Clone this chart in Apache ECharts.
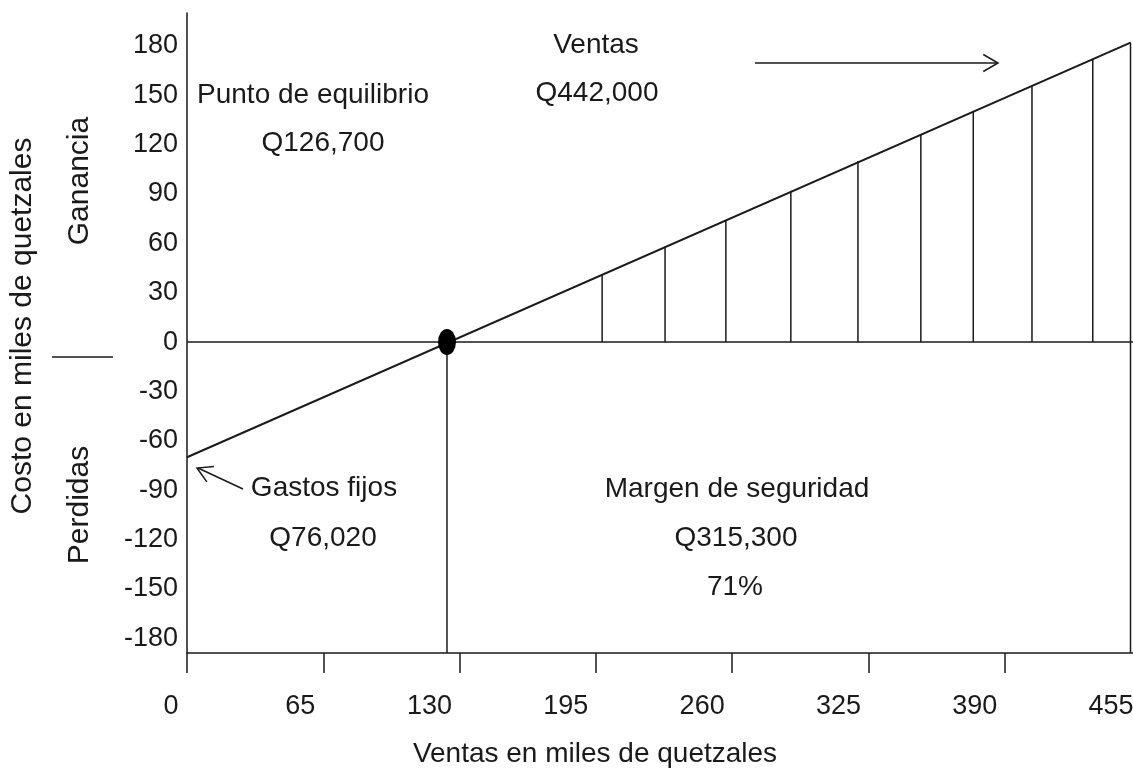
<!DOCTYPE html>
<html>
<head>
<meta charset="utf-8">
<script src="https://cdn.jsdelivr.net/npm/echarts@6/dist/echarts.min.js"></script>
<style>
  html, body { margin: 0; padding: 0; background: #fff; }
  #chart { width: 1133px; height: 771px; }
</style>
</head>
<body>
<div id="chart"></div>
<script>
// ---- data (values in thousands of quetzales) ----
const xTickLabels = ['0', '65', '130', '195', '260', '325', '390', '455'];
const yTickValues = [-180, -150, -120, -90, -60, -30, 0, 30, 60, 90, 120, 150, 180];
const profitLineX = [0, 450];
const profitLineY = [-70, 182];
const hatchX = [198, 228, 257, 288, 320, 350, 375, 403, 432];
const hatchY = [41, 58, 74, 92, 110, 126, 140, 156, 172];
const breakEvenX = 124;
const salesX = 450;
const salesY = 182;
const yMin = -189;
const yMax = 200;

const FONT = '"Liberation Sans", Arial, sans-serif';
const INK = '#1a1a1a';

const chart = echarts.init(document.getElementById('chart'), null, { renderer: 'canvas' });

function txt(text, x, y, size, rot) {
  return {
    type: 'text', x: x, y: y, rotation: rot || 0, silent: true,
    style: { text: text, fill: INK, fontSize: size, fontFamily: FONT, align: 'center', verticalAlign: 'middle' }
  };
}
function seg(points, w) {
  return { type: 'polyline', silent: true, shape: { points: points }, style: { stroke: INK, lineWidth: w || 1.5, fill: null } };
}
function arrowHead(tail, tip, len, ang) {
  const dx = tail[0] - tip[0], dy = tail[1] - tip[1];
  const d = Math.hypot(dx, dy), ux = dx / d, uy = dy / d;
  const c = Math.cos(ang), s = Math.sin(ang);
  const a1 = [tip[0] + len * (ux * c - uy * s), tip[1] + len * (ux * s + uy * c)];
  const a2 = [tip[0] + len * (ux * c + uy * s), tip[1] + len * (-ux * s + uy * c)];
  return seg([a1, tip, a2], 1.5);
}

const lineData = profitLineX.map((x, i) => [x, profitLineY[i]]);
const hatchData = hatchX.map((x, i) => [x, hatchY[i]]);

const option = {
  backgroundColor: '#fff',
  animation: false,
  grid: { left: 187, top: 13, width: 954, height: 640, containLabel: false, outerBoundsMode: 'none' },
  xAxis: {
    type: 'value', min: 0, max: 455, interval: 65,
    axisLine: { show: true, onZero: false, lineStyle: { color: INK, width: 1.5 } },
    axisTick: { show: true, length: 20, lineStyle: { color: INK, width: 1.5 } },
    splitLine: { show: false },
    axisLabel: {
      show: true, showMinLabel: true, showMaxLabel: true, margin: 40,
      color: INK, fontSize: 27, fontFamily: FONT,
      formatter: function (v, i) {
        const cls = i === 0 ? 'a' : (i === 1 ? 'b' : 'c');
        return '{' + cls + '|' + xTickLabels[i] + '}';
      },
      rich: {
        a: { color: INK, fontSize: 27, fontFamily: FONT, padding: [0, 32, 0, 0] },
        b: { color: INK, fontSize: 27, fontFamily: FONT, padding: [0, 46, 0, 0] },
        c: { color: INK, fontSize: 27, fontFamily: FONT, padding: [0, 60, 0, 0] }
      }
    }
  },
  yAxis: {
    type: 'value', min: yMin, max: yMax,
    axisLine: { show: true, onZero: false, lineStyle: { color: INK, width: 1.5 } },
    axisTick: { show: false },
    splitLine: { show: false },
    axisLabel: {
      show: true, customValues: yTickValues, margin: 9,
      color: INK, fontSize: 27, fontFamily: FONT
    }
  },
  series: [
    {
      name: 'Resultado', type: 'line', data: lineData, showSymbol: false, silent: true,
      lineStyle: { color: INK, width: 2 },
      markLine: {
        silent: true, symbol: ['none', 'none'], label: { show: false },
        lineStyle: { color: INK, width: 1.5, type: 'solid' },
        data: [{ yAxis: 0 }]
      }
    },
    {
      name: 'Ganancia', type: 'bar', data: hatchData, barWidth: 1.5, silent: true,
      itemStyle: { color: INK }
    },
    {
      name: 'Ventas', type: 'line', data: [[salesX, yMin], [salesX, salesY]], showSymbol: false, silent: true,
      lineStyle: { color: INK, width: 1.5 }
    },
    {
      name: 'Equilibrio', type: 'line', data: [[breakEvenX, yMin], [breakEvenX, 0]], showSymbol: false, silent: true,
      lineStyle: { color: INK, width: 1.5 }
    },
    {
      name: 'Punto', type: 'scatter', data: [[breakEvenX, 0]], symbol: 'circle', symbolSize: [18, 26], silent: true,
      itemStyle: { color: '#000', opacity: 1 }, z: 5
    }
  ],
  graphic: [
    txt('Costo en miles de quetzales', 23, 326, 30, Math.PI / 2),
    txt('Ganancia', 80, 181, 30, Math.PI / 2),
    txt('Perdidas', 80, 505, 30, Math.PI / 2),
    seg([[52, 357], [113, 357]], 1.5),
    txt('Punto de equilibrio', 313, 95, 28),
    txt('Q126,700', 323, 143, 28),
    txt('Ventas', 596, 45, 28),
    txt('Q442,000', 597, 93, 28),
    seg([[755, 63], [998, 63]], 1.5),
    arrowHead([755, 63], [998, 63], 17, Math.PI / 6),
    txt('Gastos fijos', 324, 488, 28),
    txt('Q76,020', 323, 538, 28),
    seg([[243, 489], [198, 468]], 1.5),
    arrowHead([243, 489], [197, 468], 17, Math.PI / 6),
    txt('Margen de seguridad', 737, 489, 28),
    txt('Q315,300', 736, 538, 28),
    txt('71%', 735, 587, 28),
    txt('Ventas en miles de quetzales', 595, 754, 28)
  ]
};
chart.setOption(option);
</script>
</body>
</html>
